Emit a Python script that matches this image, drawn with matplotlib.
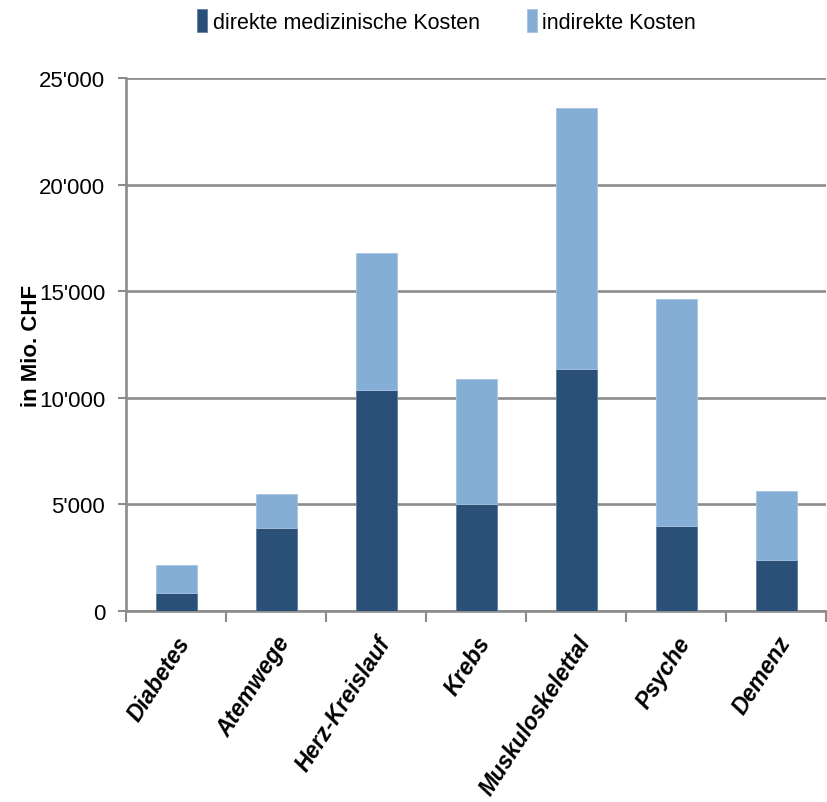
import matplotlib
matplotlib.use('Agg')
import matplotlib.pyplot as plt
import numpy as np
from matplotlib.ticker import FuncFormatter

categories = ['Diabetes', 'Atemwege', 'Herz-Kreislauf', 'Krebs', 'Muskuloskelettal', 'Psyche', 'Demenz']
direkt = [850, 3900, 10350, 5000, 11350, 4000, 2400]
total = [2150, 5500, 16800, 10900, 23600, 14650, 5650]
indirekt = [t - d for t, d in zip(total, direkt)]

dark = '#2b5078'
light = '#85aed6'
grey = '#8c8c8c'

plt.rcParams['font.family'] = ['Liberation Sans', 'DejaVu Sans']

fig = plt.figure(figsize=(8.27, 8.03), dpi=100)
ax = fig.add_axes([126/827, 1-612/803, 700/827, 533/803])

x = np.arange(len(categories))
w = 0.41
ax.bar(x, direkt, w, color=dark, edgecolor='#5f7fa3', linewidth=0.6,
       label='direkte medizinische Kosten', zorder=3)
ax.bar(x, indirekt, w, bottom=direkt, color=light, edgecolor='#a9c4e0',
       linewidth=0.6, label='indirekte Kosten', zorder=3)

ax.set_xlim(-0.5, len(categories) - 0.5)
ax.set_ylim(0, 25000)
ax.set_yticks(np.arange(0, 25001, 5000))
ax.yaxis.set_major_formatter(FuncFormatter(
    lambda v, p: '0' if v == 0 else "%d'%03d" % (v // 1000, v % 1000)))
ax.yaxis.grid(True, color=grey, linewidth=1.9, zorder=0)
ax.set_axisbelow(True)

ax.set_xticks(np.arange(-0.5, len(categories)))
ax.set_xticklabels([])
ax.set_xticks(x, minor=True)
ax.set_xticklabels(categories, minor=True, rotation=57, ha='right', va='top',
                   rotation_mode='anchor', fontsize=16.5, style='italic',
                   fontweight='bold')
ax.tick_params(axis='x', which='minor', length=0, pad=15)
ax.tick_params(axis='x', which='major', length=8, width=1.5, color=grey)
ax.tick_params(axis='y', length=6, width=1.5, color=grey, labelsize=16, pad=9)

for s in ['top', 'right']:
    ax.spines[s].set_visible(False)
for s in ['left', 'bottom']:
    ax.spines[s].set_color(grey)
    ax.spines[s].set_linewidth(1.9)

ax.set_ylabel('in Mio. CHF', fontsize=16, fontweight='bold')
ax.yaxis.set_label_coords(-0.12, 0.5)

fig.legend(loc='upper center', bbox_to_anchor=(0.54, 1.012), ncol=2, frameon=False,
           fontsize=15.5, handlelength=0.45, handleheight=1.3, handletextpad=0.25,
           columnspacing=2.2)

fig.savefig('out.png', dpi=100)
